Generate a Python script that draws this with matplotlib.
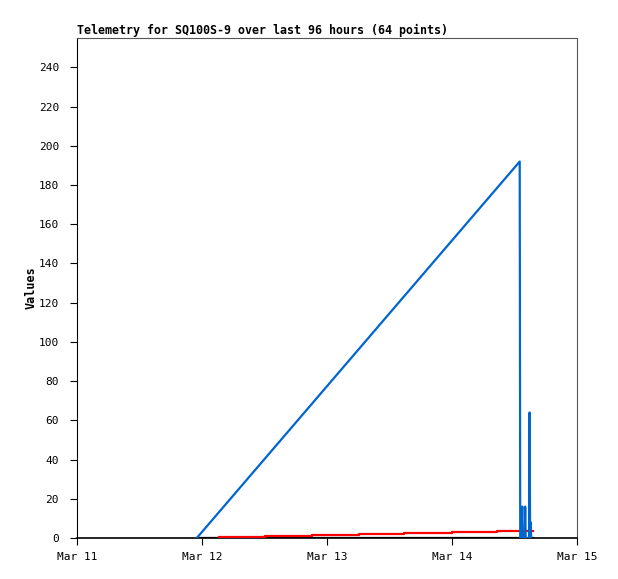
import datetime as dt
import matplotlib
matplotlib.use("Agg")
import matplotlib.pyplot as plt
import matplotlib.dates as mdates

base = dt.datetime(2024, 3, 11)

# hours after Mar 11 00:00
blue_hours = [23.0, 85.0, 85.1, 85.3, 85.5, 85.55, 85.95, 86.05, 86.15, 86.8, 86.9, 87.0, 87.1, 87.2]
blue_vals = [0, 192, 0, 0, 16, 0, 0, 16, 0, 0, 64, 0, 8, 0]

red_hours = [27.3, 36.1, 45.1, 54.1, 62.8, 72.0, 80.6, 87.6]
red_vals = [0.5, 1.0, 1.5, 2.0, 2.5, 3.0, 3.5, 3.5]

black_hours = [23.0, 87.6]
black_vals = [0, 0]

x_ticks = ["2024-03-11", "2024-03-12", "2024-03-13", "2024-03-14", "2024-03-15"]
y_ticks = list(range(0, 241, 20))


def to_dates(hours):
    return [base + dt.timedelta(hours=h) for h in hours]


plt.rcParams["font.family"] = ["DejaVu Sans Mono"]

fig = plt.figure(figsize=(6.18, 5.79), dpi=100)
ax = fig.add_axes([77 / 618, 41 / 579, 500 / 618, 500 / 579])

ax.plot(to_dates(black_hours), black_vals, color="black", lw=1.6, zorder=2)
ax.step(to_dates(red_hours), red_vals, where="post", color="#ff0000", lw=1.6, zorder=3)
ax.plot(to_dates(blue_hours), blue_vals, color="#0066cc", lw=1.6, zorder=4)

ax.set_xlim(dt.datetime(2024, 3, 11), dt.datetime(2024, 3, 15))
ax.set_ylim(0, 255)
ax.set_xticks([dt.datetime.fromisoformat(t) for t in x_ticks])
ax.xaxis.set_major_formatter(mdates.DateFormatter("%b %d"))
ax.set_yticks(y_ticks)

ax.tick_params(direction="out", length=5, width=0.8, labelsize=8, colors="black")
ax.tick_params(axis="y", pad=8)
ax.tick_params(axis="x", pad=5)

for s in ["top", "right"]:
    ax.spines[s].set_color("#555555")
    ax.spines[s].set_linewidth(0.8)
ax.spines["left"].set_linewidth(0.8)
ax.spines["bottom"].set_linewidth(1.2)

ax.set_ylabel("Values", fontsize=8.5, fontweight="bold", labelpad=1)
ax.set_title("Telemetry for SQ100S-9 over last 96 hours (64 points)",
             loc="left", fontsize=8.35, fontweight="bold", pad=3)

fig.savefig("out.png", dpi=100)
